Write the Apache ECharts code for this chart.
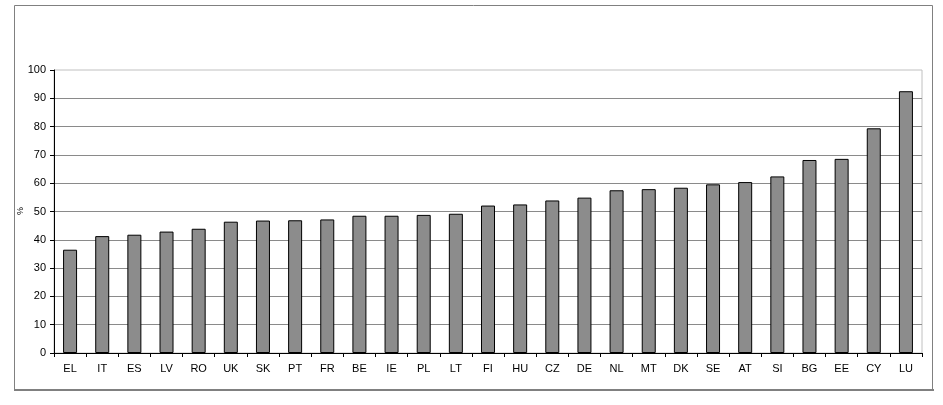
<!DOCTYPE html>
<html>
<head>
<meta charset="utf-8">
<script src="https://cdn.jsdelivr.net/npm/echarts@6/dist/echarts.min.js"></script>
<style>
html,body{margin:0;padding:0;background:#fff;}
#c{width:943px;height:405px;}
</style>
</head>
<body>
<div id="c"></div>
<script>
const categories = ["EL","IT","ES","LV","RO","UK","SK","PT","FR","BE","IE","PL","LT","FI","HU","CZ","DE","NL","MT","DK","SE","AT","SI","BG","EE","CY","LU"];
const values = [36.5,41.3,41.8,42.9,43.9,46.4,46.8,46.9,47.2,48.5,48.5,48.8,49.2,52.1,52.5,53.9,54.9,57.5,57.9,58.4,59.6,60.4,62.4,68.2,68.6,79.4,92.5];
const yTicks = {min:0, max:100, interval:10};

const chart = echarts.init(document.getElementById('c'), null, {renderer:'canvas'});
const font = '"Liberation Sans", Arial, sans-serif';
chart.setOption({
  animation:false,
  backgroundColor:'#fff',
  graphic:[
    {type:'rect', shape:{x:14.5,y:5.5,width:918,height:384}, style:{fill:'none', stroke:'#808080', lineWidth:1}, z:-1},
    {type:'line', shape:{x1:14,y1:390,x2:934,y2:390}, style:{stroke:'#808080', lineWidth:2}, z:-1},
    {type:'text', x:16, y:215, rotation:Math.PI/2, style:{text:'%', font:'9px '+font, fill:'#000'}}
  ],
  grid:{left:54, right:21, top:70, bottom:52, show:true, borderColor:'#c0c0c0', borderWidth:1},
  xAxis:{
    type:'category', data:categories,
    axisLine:{lineStyle:{color:'#000', width:1}},
    axisTick:{show:true, length:4, lineStyle:{color:'#000'}},
    axisLabel:{color:'#000', fontFamily:font, fontSize:11, margin:10, interval:0}
  },
  yAxis:{
    type:'value', min:yTicks.min, max:yTicks.max, interval:yTicks.interval,
    axisLine:{show:true, lineStyle:{color:'#000', width:1}},
    axisTick:{show:true, length:4, lineStyle:{color:'#000'}},
    axisLabel:{color:'#000', fontFamily:font, fontSize:11, margin:8},
    splitLine:{showMaxLine:false, lineStyle:{color:'#8a8a8a', width:1}}
  },
  series:[{
    type:'bar', data:values, barWidth:14,
    itemStyle:{color:'#8c8c8c', borderColor:'#000', borderWidth:1}
  }]
});
</script>
</body>
</html>
